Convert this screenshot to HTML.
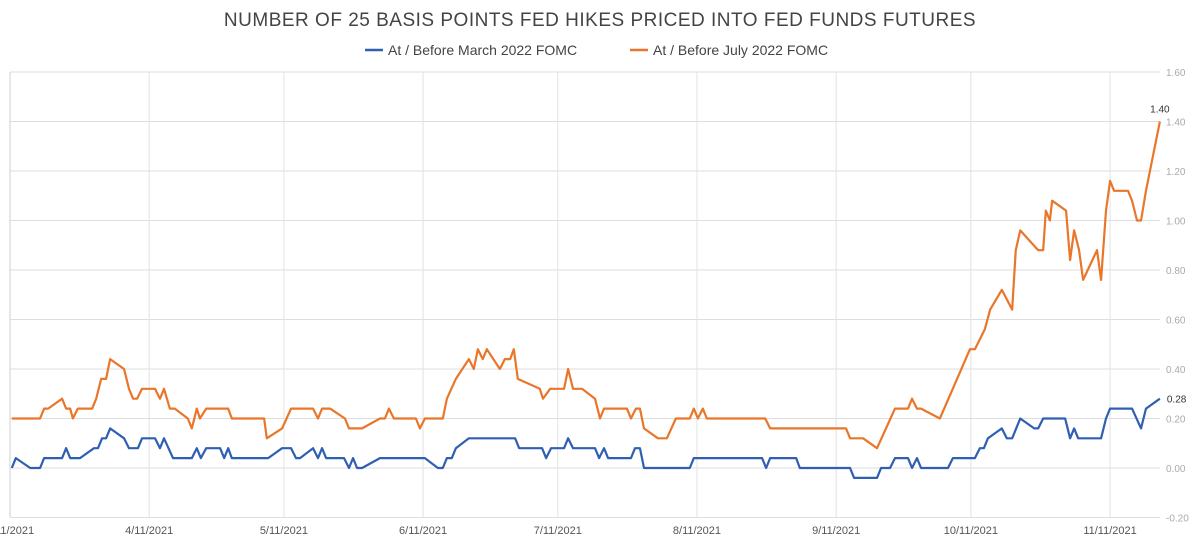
<!DOCTYPE html>
<html><head><meta charset="utf-8"><style>
body{margin:0;background:#fff;font-family:"Liberation Sans",sans-serif}
svg{display:block}
</style></head><body>
<svg id="chart" width="1200" height="542">
<text x="600" y="26" text-anchor="middle" font-size="19" fill="#444" letter-spacing="0.5">NUMBER OF 25 BASIS POINTS FED HIKES PRICED INTO FED FUNDS FUTURES</text>
<g>
<g><line x1="365" y1="50" x2="383" y2="50" stroke="#2f5fb3" stroke-width="2.5"/><text x="388" y="55" font-size="14" fill="#444">At / Before March 2022 FOMC</text></g>
<g><line x1="630" y1="50" x2="648" y2="50" stroke="#e9762b" stroke-width="2.5"/><text x="653" y="55" font-size="14" fill="#444">At / Before July 2022 FOMC</text></g>
</g>
<g id="grid"></g><g id="axes"></g><g id="series"></g>
</svg>
<script>
const xTickDays=[0,31,61,92,122,153,184,214,245];
const xTickLabels=["3/11/2021","4/11/2021","5/11/2021","6/11/2021","7/11/2021","8/11/2021","9/11/2021","10/11/2021","11/11/2021"];
const yTicks=[-0.2,0,0.2,0.4,0.6,0.8,1.0,1.2,1.4,1.6];
const julyDays=[0.4,6.7,7.6,8.5,11.6,12.5,13.4,14,15.1,18.3,19.2,20.3,21.4,22.3,25.4,26.5,27.4,28.3,29.4,32.3,33.4,34.3,35.6,36.7,39.6,40.5,41.6,42.3,43.7,48.6,49.4,56.6,57.2,60.6,62.6,67.5,68.6,69.5,71.3,74.6,75.5,78.4,82.4,83.5,84.4,85.5,90.4,91.3,92.4,96.4,97.3,99.3,102.2,103.3,104.2,105.3,106.2,109.1,110.2,111.4,112.2,113.1,118,118.7,120.3,123.4,124.3,125.4,127.4,130.3,131.4,132.3,137.4,138.3,139.4,140.3,141.2,144.3,146.3,148.3,151.4,152.3,153.2,154.3,155.2,168.2,169.3,186.2,187.1,190,193.1,197.1,200,200.9,202,202.9,207.1,213.8,214.9,217.1,218.3,220.9,223.2,224,225,229,230.1,230.7,231.6,232.1,235.2,236.1,237,238.1,239,242.1,243,244.1,245,245.9,249,249.9,251,251.9,253,256.1];
const julyVals=[.20,.20,.24,.24,.28,.24,.24,.20,.24,.24,.28,.36,.36,.44,.40,.32,.28,.28,.32,.32,.28,.32,.24,.24,.20,.16,.24,.20,.24,.24,.20,.20,.12,.16,.24,.24,.20,.24,.24,.20,.16,.16,.20,.20,.24,.20,.20,.16,.20,.20,.28,.36,.44,.40,.48,.44,.48,.40,.44,.44,.48,.36,.32,.28,.32,.32,.40,.32,.32,.28,.20,.24,.24,.20,.24,.24,.16,.12,.12,.20,.20,.24,.20,.24,.20,.20,.16,.16,.12,.12,.08,.24,.24,.28,.24,.24,.20,.48,.48,.56,.64,.72,.64,.88,.96,.88,.88,1.04,1.00,1.08,1.04,.84,.96,.88,.76,.88,.76,1.04,1.16,1.12,1.12,1.08,1.00,1.00,1.12,1.40];
const marchDays=[0.4,1.3,4.5,6.7,7.6,11.6,12.5,13.4,15.6,18.7,19.6,20.5,21.4,22.3,25.4,26.5,28.5,29.4,32.3,33.4,34.3,36.3,40.5,41.6,42.5,43.7,46.8,47.7,48.6,49.4,57.5,60.6,62.6,63.7,64.6,67.5,68.6,69.5,70.4,74.4,75.5,76.4,77.3,78.4,82.4,92.4,95.3,96.4,97.3,98.4,99.3,102.2,112.5,113.4,118.5,119.4,120.5,123.4,124.3,125.4,130.3,131.2,132.3,133.2,138.3,139.2,140.3,141.2,151.4,152.3,167.5,168.4,169.3,175.1,175.9,187.1,188,193.1,194,196,197.1,200,200.9,202,202.9,208.9,210,214.9,216,216.9,217.8,220.9,222,223.2,225,228.1,229,230.1,235,236.1,237,237.9,243,244.1,245,249.9,251.9,253,256.1];
const marchVals=[0,.04,0,0,.04,.04,.08,.04,.04,.08,.08,.12,.12,.16,.12,.08,.08,.12,.12,.08,.12,.04,.04,.08,.04,.08,.08,.04,.08,.04,.04,.08,.08,.04,.04,.08,.04,.08,.04,.04,0,.04,0,0,.04,.04,0,0,.04,.04,.08,.12,.12,.08,.08,.04,.08,.08,.12,.08,.08,.04,.08,.04,.04,.08,.08,0,0,.04,.04,0,.04,.04,0,0,-.04,-.04,0,0,.04,.04,0,.04,0,0,.04,.04,.08,.08,.12,.16,.12,.12,.20,.16,.16,.20,.20,.12,.16,.12,.12,.20,.24,.24,.16,.24,.28];
const NS="http://www.w3.org/2000/svg";
const X=d=>10+d*4.49, Y=v=>468-v*247.5;
function mk(t,a,p){const e=document.createElementNS(NS,t);for(const k in a)e.setAttribute(k,a[k]);p.appendChild(e);return e;}
const grid=document.getElementById('grid'),axes=document.getElementById('axes'),ser=document.getElementById('series');
yTicks.forEach(v=>{
 const l=mk('line',{x1:10,x2:1160,y1:Y(v),y2:Y(v),stroke:'#dedede','stroke-width':1},grid);
 
 
 const t=mk('text',{x:1166,y:Y(v)+4,'font-size':10,fill:'#aaa'},axes);
 t.textContent=v.toFixed(2);
 
 
});
xTickDays.forEach((d,i)=>{
 const l=mk('line',{x1:X(d),x2:X(d),y1:72,y2:517,stroke:i==0?'#cfcfcf':'#e2e2e2','stroke-width':1},grid);
 
 
 const t=mk('text',{x:X(d),y:534,'font-size':11,fill:'#555','text-anchor':'middle'},axes);
 t.textContent=xTickLabels[i];
 
 
});
function line(days,vals,color,name){
 const p=mk('polyline',{points:days.map((d,i)=>X(d)+','+Y(vals[i])).join(' '),fill:'none',stroke:color,'stroke-width':2.2,'stroke-linejoin':'round'},ser);
 
 
}
line(julyDays,julyVals,'#e9762b','july-2022-series');
line(marchDays,marchVals,'#2f5fb3','march-2022-series');
const lj=mk('text',{x:X(julyDays[julyDays.length-1]),y:Y(julyVals[julyVals.length-1])-9,'font-size':10,fill:'#333','text-anchor':'middle'},axes);
lj.textContent=julyVals[julyVals.length-1].toFixed(2);


const lm=mk('text',{x:X(marchDays[marchDays.length-1])+7,y:Y(marchVals[marchVals.length-1])+4,'font-size':10,fill:'#333'},axes);
lm.textContent=marchVals[marchVals.length-1].toFixed(2);


</script>
</body></html>
